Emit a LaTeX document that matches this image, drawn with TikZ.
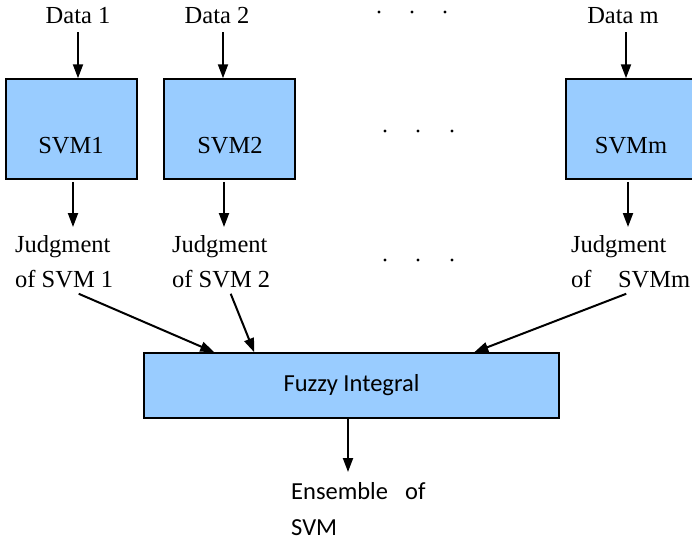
\documentclass[tikz,border=0pt]{standalone}
\usepackage{fontspec}
\setmainfont{Liberation Serif}
\newfontfamily\calfont{Carlito}
\usepackage{tikz}
\usetikzlibrary{arrows.meta}

\tikzset{
  svmbox/.style={draw=black,line width=1.5pt,fill=svmblue,minimum width=131pt,minimum height=100pt,inner sep=0pt},
  fuzzybox/.style={draw=black,line width=1.5pt,fill=svmblue,minimum width=415pt,minimum height=65pt,inner sep=0pt,font=\calfont\fontsize{24.5}{35}\selectfont},
  txt/.style={inner sep=0pt,font=\fontsize{24.5}{35}\selectfont},
  caltxt/.style={inner sep=0pt,font=\calfont\fontsize{24.5}{36}\selectfont},
  arr/.style={line width=2pt,-{Triangle[length=14pt,width=10pt]}}
}
\definecolor{svmblue}{RGB}{153,204,255}

\begin{document}
\begin{tikzpicture}[x=1pt,y=-1pt]
  \useasboundingbox (0,0) rectangle (692,541);

  \node[txt,anchor=base] (d1) at (78,23) {Data 1};
  \node[txt,anchor=base] (d2) at (217,23) {Data 2};
  \node[txt,anchor=base] (dm) at (623,23) {Data m};

  \node[svmbox] (svm1) at (71.5,129) {};
  \node[svmbox] (svm2) at (229.5,129) {};
  \node[svmbox] (svmm) at (631.5,129) {};
  \node[txt,anchor=base] at (71,153) {SVM1};
  \node[txt,anchor=base] at (230,153) {SVM2};
  \node[txt,anchor=base] at (631,153) {SVMm};

  \node[txt,align=left,anchor=north west] (j1) at (15,235) {Judgment\\of SVM 1};
  \node[txt,align=left,anchor=north west] (j2) at (172,235) {Judgment\\of SVM 2};
  \node[txt,align=left,anchor=north west] (jm) at (571,235) {Judgment\\of\hspace{1.08em}SVMm};

  \node[fuzzybox] (fuzzy) at (351.5,385.5) {Fuzzy Integral};
  \node[caltxt,align=left,anchor=north west] (ens) at (291,482) {Ensemble\hspace{0.7em}of\\SVM};

  \foreach \x in {379,412,445} \fill (\x,12) circle (1.6pt);
  \foreach \y in {131,260}
    \foreach \x in {385,418,452} \fill (\x,\y) circle (1.6pt);

  \draw[arr] ([yshift=-9pt]d1.south) -- (d1.south |- svm1.north);
  \draw[arr] ([xshift=6pt,yshift=-9pt]d2.south) -- ([xshift=6pt]d2.south |- svm2.north);
  \draw[arr] ([xshift=3pt,yshift=-9pt]dm.south) -- ([xshift=3pt]dm.south |- svmm.north);

  \draw[arr] ([yshift=-2pt,xshift=1.5pt]svm1.south) -- ([xshift=1.5pt,yshift=8pt]svm1.south |- j1.north);
  \draw[arr] ([yshift=-2pt,xshift=-5.5pt]svm2.south) -- ([xshift=-5.5pt,yshift=8pt]svm2.south |- j2.north);
  \draw[arr] ([yshift=-2pt,xshift=-3.5pt]svmm.south) -- ([xshift=-3.5pt,yshift=8pt]svmm.south |- jm.north);

  \draw[arr] ([xshift=14.5pt,yshift=-6pt]j1.south) -- ([xshift=71pt]fuzzy.north west);
  \draw[arr] ([xshift=9.5pt,yshift=-6pt]j2.south) -- ([xshift=111pt]fuzzy.north west);
  \draw[arr] ([xshift=-4.5pt,yshift=-6pt]jm.south) -- ([xshift=331pt]fuzzy.north west);

  \draw[arr] ([xshift=-3.5pt]fuzzy.south) -- ([xshift=-3.5pt,yshift=10pt]fuzzy.south |- ens.north);
\end{tikzpicture}
\end{document}
